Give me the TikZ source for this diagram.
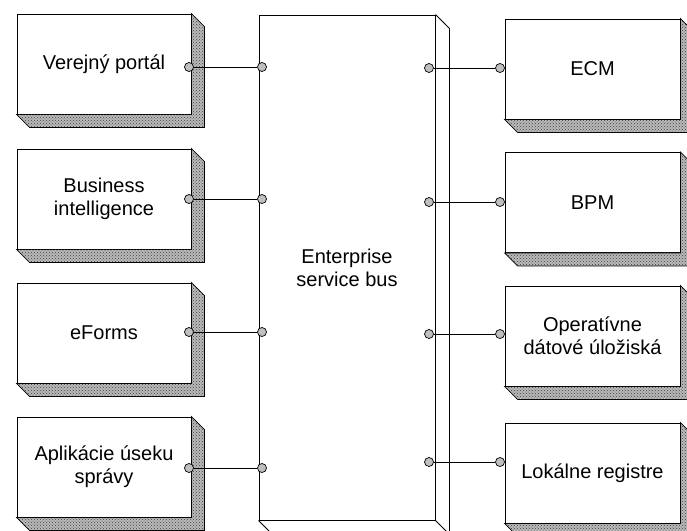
\documentclass[tikz,border=0pt]{standalone}
\usepackage{fontspec}
\setmainfont{Liberation Sans}
\usetikzlibrary{patterns}
\tikzset{
  sysbox/.style={draw, line width=0.9pt, fill=white, minimum width=174pt, minimum height=100pt,
    inner sep=2pt, align=center, font=\fontsize{20}{23}\selectfont},
  busbox/.style={draw, line width=0.9pt, fill=white, minimum width=176pt, minimum height=505pt,
    inner sep=2pt, align=center, font=\fontsize{20}{23}\selectfont},
  port/.style={circle, draw, line width=0.7pt, fill=gray!50, minimum size=9pt, inner sep=0pt},
  link/.style={draw, line width=0.9pt},
  shade3d/.style={fill=gray!55, draw, line width=0.7pt,
    postaction={pattern=crosshatch dots, pattern color=black!75}},
  edge3d/.style={draw, line width=0.9pt}
}
\newcommand{\extrude}[1]{%
  \path[shade3d] (#1.north east) -- ([shift={(13,13)}]#1.north east)
    -- ([shift={(13,13)}]#1.south east) -- ([shift={(13,13)}]#1.south west)
    -- (#1.south west) -- (#1.south east) -- cycle;}
\begin{document}
\begin{tikzpicture}[x=1pt,y=-1pt]
\useasboundingbox (0,0) rectangle (687,530);
\fill[white] (0,0) rectangle (687,530);
\clip (0,0) rectangle (687,530);

% left column
\node[sysbox] (vp) at (104,64) {Verejný portál};
\node[sysbox] (bi) at (104,199) {Business\\intelligence};
\node[sysbox] (ef) at (104,333) {eForms};
\node[sysbox] (ap) at (104,467) {Aplikácie úseku\\správy};
\extrude{vp}\extrude{bi}\extrude{ef}\extrude{ap}

% bus
\node[busbox] (esb) at (347,267.5) {Enterprise\\service bus};
\path[edge3d] (esb.north east) -- ([shift={(14,14)}]esb.north east) -- ([shift={(14,30)}]esb.south east);
\path[edge3d] (esb.south east) -- ([shift={(14,14)}]esb.south east);
\path[edge3d] (esb.south west) -- ([shift={(14,14)}]esb.south west);

% right column
\node[sysbox, minimum width=175pt] (ecm) at (592.5,69) {ECM};
\node[sysbox, minimum width=175pt] (bpm) at (592.5,202.5) {BPM};
\node[sysbox, minimum width=175pt] (ods) at (592.5,336) {Operatívne\\dátové úložiská};
\node[sysbox, minimum width=175pt] (lr) at (592.5,473) {Lokálne registre};
\extrude{ecm}\extrude{bpm}\extrude{ods}\extrude{lr}

% ports
\node[port] (vpP) at (189,67) {};
\node[port] (biP) at (189,199) {};
\node[port] (efP) at (189,332) {};
\node[port] (apP) at (189,468) {};
\node[port] (esbL1) at (262,67) {};
\node[port] (esbL2) at (262,199) {};
\node[port] (esbL3) at (262,332) {};
\node[port] (esbL4) at (262,468) {};
\node[port] (esbR1) at (429,68) {};
\node[port] (esbR2) at (429,202) {};
\node[port] (esbR3) at (429,334) {};
\node[port] (esbR4) at (429,462) {};
\node[port] (ecmP) at (500,68) {};
\node[port] (bpmP) at (500,202) {};
\node[port] (odsP) at (500,334) {};
\node[port] (lrP) at (500,462) {};

% connectors
\path[link] (vpP) -- (esbL1);
\path[link] (biP) -- (esbL2);
\path[link] (efP) -- (esbL3);
\path[link] (apP) -- (esbL4);
\path[link] (esbR1) -- (ecmP);
\path[link] (esbR2) -- (bpmP);
\path[link] (esbR3) -- (odsP);
\path[link] (esbR4) -- (lrP);
\end{tikzpicture}
\end{document}
